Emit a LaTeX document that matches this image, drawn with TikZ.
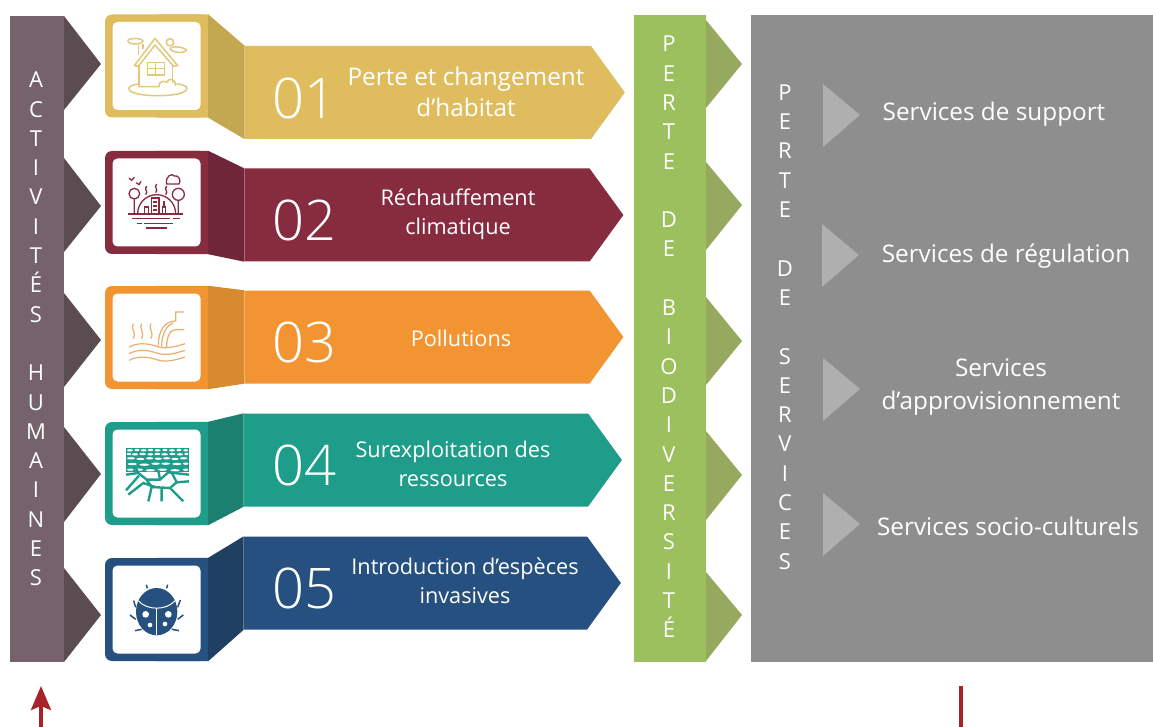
\documentclass[tikz,border=0pt]{standalone}
\usepackage{fontspec}
\setmainfont{Open Sans}
\newfontfamily\thinfont{Open Sans Light}
\usetikzlibrary{arrows.meta,shapes.symbols}
\definecolor{barA}{HTML}{75626B}
\definecolor{tipA}{HTML}{5B4C52}
\definecolor{barB}{HTML}{9DC05E}
\definecolor{tipB}{HTML}{96A95E}
\definecolor{barC}{HTML}{8F8E8F}
\definecolor{tipC}{HTML}{B0AFB0}
\definecolor{yellowR}{HTML}{DFBD5E}
\definecolor{yellowF}{HTML}{C4A851}
\definecolor{wineR}{HTML}{872B3F}
\definecolor{wineF}{HTML}{6E2638}
\definecolor{orangeR}{HTML}{F39433}
\definecolor{orangeF}{HTML}{D98A2E}
\definecolor{tealR}{HTML}{1F9D8B}
\definecolor{tealF}{HTML}{1B806F}
\definecolor{blueR}{HTML}{26507F}
\definecolor{blueF}{HTML}{1F4060}
\definecolor{houseL}{HTML}{E3C77A}
\definecolor{pipeL}{HTML}{E9AE6E}
\definecolor{arrowR}{HTML}{A7222A}
\tikzset{
    tile/.style={
           rectangle,
           rounded corners=7pt,
           minimum width=103pt,
           minimum height=103pt,
           inner sep=0pt
           },
    iconbox/.style={
           rectangle,
           rounded corners=5pt,
           fill=white,
           minimum width=88pt,
           minimum height=88pt,
           inner sep=0pt
           },
    ribbon/.style={
           signal,
           signal to=east,
           signal pointer angle=108,
           minimum width=380pt,
           minimum height=93pt,
           inner sep=0pt
           },
    digits/.style={
           text=white,
           font=\thinfont\fontsize{56}{60}\selectfont
           },
    caption/.style={
           text=white,
           align=center,
           font=\fontsize{21.7}{29}\selectfont
           },
    bigcaption/.style={
           text=white,
           align=center,
           font=\fontsize{24.3}{31}\selectfont
           },
    letters/.style={
           text=white,
           align=center,
           font=\fontsize{22}{29.3}\selectfont
           },
    iconframe/.style={
           shift={(#1)},
           x=0.3333pt,
           y=-0.3333pt
           },
}
\begin{document}
\begin{tikzpicture}[x=1pt,y=-1pt]
    \useasboundingbox (0,0) rectangle (1153,727);

    % side bars
    \fill[barA] (10,16) rectangle (64,662);
    \fill[barB] (634,15) rectangle (706,662);
    \fill[barC] (751,15) rectangle (1153,662);

    \fill[tipA] (64,16) -- (101,64) -- (64,110) -- cycle;
    \fill[tipA] (64,158) -- (101,206) -- (64,252) -- cycle;
    \fill[tipA] (64,293) -- (101,340) -- (64,387) -- cycle;
    \fill[tipA] (64,427) -- (101,474) -- (64,522) -- cycle;
    \fill[tipA] (64,568) -- (101,615) -- (64,662) -- cycle;

    \fill[tipB] (706,20) -- (742,64) -- (706,108) -- cycle;
    \fill[tipB] (706,162) -- (742,205) -- (706,250) -- cycle;
    \fill[tipB] (706,297) -- (742,341) -- (706,385) -- cycle;
    \fill[tipB] (706,431) -- (742,475) -- (706,520) -- cycle;
    \fill[tipB] (706,572) -- (742,615) -- (706,661) -- cycle;

    \fill[tipC] (823,84) -- (860,115) -- (823,147) -- cycle;
    \fill[tipC] (822,224) -- (859,255) -- (822,287) -- cycle;
    \fill[tipC] (823,358) -- (860,389) -- (823,421) -- cycle;
    \fill[tipC] (823,493) -- (860,524) -- (823,556) -- cycle;

    \node[letters] (ACT) at (36,329)
      {A\\C\\T\\I\\V\\I\\T\\É\\S\\[29.3pt]H\\U\\M\\A\\I\\N\\E\\S};
    \node[letters] (BIO) at (669,337)
      {P\\E\\R\\T\\E\\[29.3pt]D\\E\\[29.3pt]B\\I\\O\\D\\I\\V\\E\\R\\S\\I\\T\\É};
    \node[letters] (SERV) at (785,327)
      {P\\E\\R\\T\\E\\[29.3pt]D\\E\\[29.3pt]S\\E\\R\\V\\I\\C\\E\\S};

    % ribbons and tiles
    \node[ribbon, fill=yellowR] (RIB1) at (418,92.5) {};
    \node[ribbon, fill=wineR, below of=RIB1, node distance=122.5pt, anchor=center, minimum width=379pt, xshift=-1pt] (RIB2) {};
    \node[ribbon, fill=orangeR, below of=RIB2, node distance=122pt, anchor=center, minimum width=379pt] (RIB3) {};
    \node[ribbon, fill=tealR, below of=RIB3, node distance=123pt, anchor=center, minimum width=378pt, xshift=-1pt] (RIB4) {};
    \node[ribbon, fill=blueR, below of=RIB4, node distance=123pt, anchor=center, minimum width=377pt, xshift=-0.5pt] (RIB5) {};

    \node[tile, fill=yellowR] (TILE1) at (156.5,66) {};
    \node[tile, fill=wineR, below of=TILE1, node distance=136.5pt, anchor=center] (TILE2) {};
    \node[tile, fill=orangeR, below of=TILE2, node distance=135pt, anchor=center] (TILE3) {};
    \node[tile, fill=tealR, below of=TILE3, node distance=136pt, anchor=center] (TILE4) {};
    \node[tile, fill=blueR, below of=TILE4, node distance=136pt, anchor=center] (TILE5) {};

    \fill[yellowR] (TILE1.north) -| (TILE1.east) |- (TILE1.south) -- cycle;
    \fill[wineR] (TILE2.north) -| (TILE2.east) |- (TILE2.south) -- cycle;
    \fill[orangeR] (TILE3.north) -| (TILE3.east) |- (TILE3.south) -- cycle;
    \fill[tealR] (TILE4.north) -| (TILE4.east) |- (TILE4.south) -- cycle;
    \fill[blueR] (TILE5.north) -| (TILE5.east) |- (TILE5.south) -- cycle;

    \fill[yellowF] (TILE1.east |- TILE1.north) -- (RIB1.west |- RIB1.north) -- (RIB1.west |- RIB1.south) -- (TILE1.east |- TILE1.south) -- cycle;
    \fill[wineF] (TILE2.east |- TILE2.north) -- (RIB2.west |- RIB2.north) -- (RIB2.west |- RIB2.south) -- (TILE2.east |- TILE2.south) -- cycle;
    \fill[orangeF] (TILE3.east |- TILE3.north) -- (RIB3.west |- RIB3.north) -- (RIB3.west |- RIB3.south) -- (TILE3.east |- TILE3.south) -- cycle;
    \fill[tealF] (TILE4.east |- TILE4.north) -- (RIB4.west |- RIB4.north) -- (RIB4.west |- RIB4.south) -- (TILE4.east |- TILE4.south) -- cycle;
    \fill[blueF] (TILE5.east |- TILE5.north) -- (RIB5.west |- RIB5.north) -- (RIB5.west |- RIB5.south) -- (TILE5.east |- TILE5.south) -- cycle;

    \node[iconbox] (ICON1) at (TILE1) {};
    \node[iconbox] (ICON2) at (TILE2) {};
    \node[iconbox] (ICON3) at (TILE3) {};
    \node[iconbox] (ICON4) at (TILE4) {};
    \node[iconbox] (ICON5) at (TILE5) {};

    % labels
    \node[digits] (NUM1) at (304,98) {01};
    \node[digits] (NUM2) at (304,220) {02};
    \node[digits] (NUM3) at (304,342) {03};
    \node[digits] (NUM4) at (304,465) {04};
    \node[digits] (NUM5) at (304,588) {05};

    \node[bigcaption] (TXT1) at (466,92) {Perte et changement\\d’habitat};
    \node[caption] (TXT2) at (458,214) {Réchauffement\\climatique};
    \node[caption] (TXT3) at (461,338) {Pollutions};
    \node[caption] (TXT4) at (453,464) {Surexploitation des\\ressources};
    \node[caption] (TXT5) at (465,581) {Introduction d’espèces\\invasives};

    \node[bigcaption] (SRV1) at (994,114) {Services de support};
    \node[bigcaption] (SRV2) at (1006,256) {Services de régulation};
    \node[bigcaption, font=\fontsize{24.3}{33}\selectfont] (SRV3) at (1001,387) {Services\\d’approvisionnement};
    \node[bigcaption] (SRV4) at (1008,526) {Services socio-culturels};

    % house
    \begin{scope}[iconframe={115,25}, houseL, line width=1.5pt, line join=round]
      \draw (58,122) -- (120,40) -- (188,122) -- (176,124) -- (120,60) -- (70,124) -- cycle;
      \draw (72,124) -- (72,185) (172,124) -- (172,175);
      \draw (97,113) rectangle (148,150) (122,113) -- (122,150) (97,131) -- (148,131);
      \draw (72,177) .. controls (20,182) and (30,212) .. (130,212) .. controls (230,212) and (235,180) .. (185,177);
      \draw (72,185) -- (132,185) .. controls (130,170) and (148,165) .. (155,172) .. controls (165,155) and (182,165) .. (182,182);
      \draw (165,52) circle [radius=11];
      \draw (165,72) .. controls (170,62) and (205,65) .. (215,75) .. controls (210,85) and (175,85) .. (165,72);
      \draw (38,48) .. controls (40,38) and (78,38) .. (84,48) .. controls (80,60) and (42,60) .. (38,48);
      \draw (70,60) -- (70,90) (84,58) -- (84,72);
    \end{scope}

    % warming city
    \begin{scope}[iconframe={115,162}, wineR, line width=1.3pt]
      \draw (58,95) circle [radius=16] (58,111) -- (58,155);
      \draw (190,97) circle [radius=18] (190,115) -- (190,155);
      \draw (68,155) arc [start angle=180, end angle=360, radius=57];
      \draw[line width=2pt] (40,155) -- (205,155);
      \draw[line width=1.6pt] (88,155) -- (88,135) -- (100,135) -- (100,155) (110,155) -- (110,108) -- (132,108) -- (132,155) (142,155) -- (142,135) -- (152,135) -- (152,155) (147,135) -- (147,118);
      \draw (115,120) -- (127,120) (115,132) -- (127,132) (115,144) -- (127,144);
      \draw[line width=1.6pt] (52,170) -- (165,170) (175,170) -- (195,170) (65,184) -- (80,184) (88,184) -- (175,184) (92,198) -- (155,198);
      \draw (95,72) .. controls (85,82) and (102,88) .. (92,98);
      \draw (125,66) .. controls (115,76) and (132,82) .. (122,92);
      \draw (155,72) .. controls (145,82) and (162,88) .. (152,98);
      \draw (155,66) .. controls (150,42) and (172,32) .. (178,42) .. controls (190,38) and (200,55) .. (192,66) -- cycle;
      \draw (42,48) -- (50,55) -- (58,46) (64,62) -- (72,68) -- (78,58);
    \end{scope}

    % pipe and waves
    \begin{scope}[iconframe={115,297}, pipeL, line width=1.2pt]
      \foreach \xs in {55,80,108} {
        \draw (\xs,80) .. controls (\xs-10,92) and (\xs+10,105) .. (\xs,125);
      }
      \foreach \ys in {145,165,185} {
        \draw (42,\ys+5) .. controls (70,\ys-10) and (100,\ys-5) .. (125,\ys+3) .. controls (150,\ys+12) and (180,\ys+5) .. (210,\ys-5);
      }
      \draw (130,145) .. controls (130,100) and (150,72) .. (182,72) -- (182,45) -- (208,45);
      \draw (155,150) .. controls (155,120) and (165,98) .. (182,98) -- (208,98);
      \draw (140,148) .. controls (140,110) and (155,85) .. (175,78);
    \end{scope}

    % cracked ground
    \begin{scope}[iconframe={115,433}, tealR]
      \fill (33,45) rectangle (222,118);
      \foreach \xc/\yc/\wc in {45/52/9,66/51/8,86/52/9,107/51/8,128/52/9,150/51/8,171/52/9,192/51/8,212/52/7,
          42/63/7,60/64/9,83/63/10,106/64/9,127/63/9,149/64/10,172/63/9,195/64/9,214/63/6,
          48/76/12,76/78/12,104/76/11,130/77/11,155/76/11,180/78/11,206/76/11,
          52/93/14,88/95/15,122/92/13,152/92/13,186/93/14,212/92/8,
          46/110/10,72/110/12,106/112/14,142/110/14,180/112/14,212/110/8} {
        \fill[white] (\xc,\yc) ellipse [x radius=\wc, y radius=3.5];
      }
      \draw[line width=2.4pt] (33,125) -- (70,120) -- (95,140) -- (135,140) -- (160,118) -- (222,125);
      \draw[line width=2.4pt] (95,140) -- (110,162) -- (165,165) -- (185,148) -- (222,145);
      \draw[line width=2.4pt] (33,172) -- (72,128) (40,185) -- (85,150) -- (120,162);
      \draw[line width=2.4pt] (100,205) -- (110,162) (140,205) -- (140,165) (205,205) -- (165,165);
      \draw[line width=2.4pt] (70,120) -- (60,100) (135,140) -- (130,112) (185,148) -- (170,118);
    \end{scope}

    % ladybug
    \begin{scope}[iconframe={115,570}, blueR]
      \fill (125,125) ellipse [x radius=62, y radius=71];
      \draw[white, line width=1pt] (70,92) .. controls (95,122) and (155,122) .. (180,92);
      \draw[white, line width=1pt] (125,115) -- (125,196);
      \fill[white] (92,133) circle [radius=10] (160,133) circle [radius=10] (105,165) circle [radius=7] (150,162) circle [radius=7];
      \draw[line width=1.5pt] (62,112) -- (56,92) (188,112) -- (196,90) (62,148) -- (45,135) (188,148) -- (205,135) (80,178) -- (60,182) (170,178) -- (192,182) (97,55) -- (94,44) (155,55) -- (158,44);
    \end{scope}

    % feedback arrow
    \coordinate (FROM) at (961,686);
    \coordinate (TO) at (41,686);
    \coordinate (LOW) at (0,728.4);
    \draw[arrowR, line width=3.5pt, -{Stealth[length=24pt,width=20pt,inset=4pt]}]
        (FROM) -- (FROM |- LOW) -- (TO |- LOW) -- (TO);
\end{tikzpicture}
\end{document}
